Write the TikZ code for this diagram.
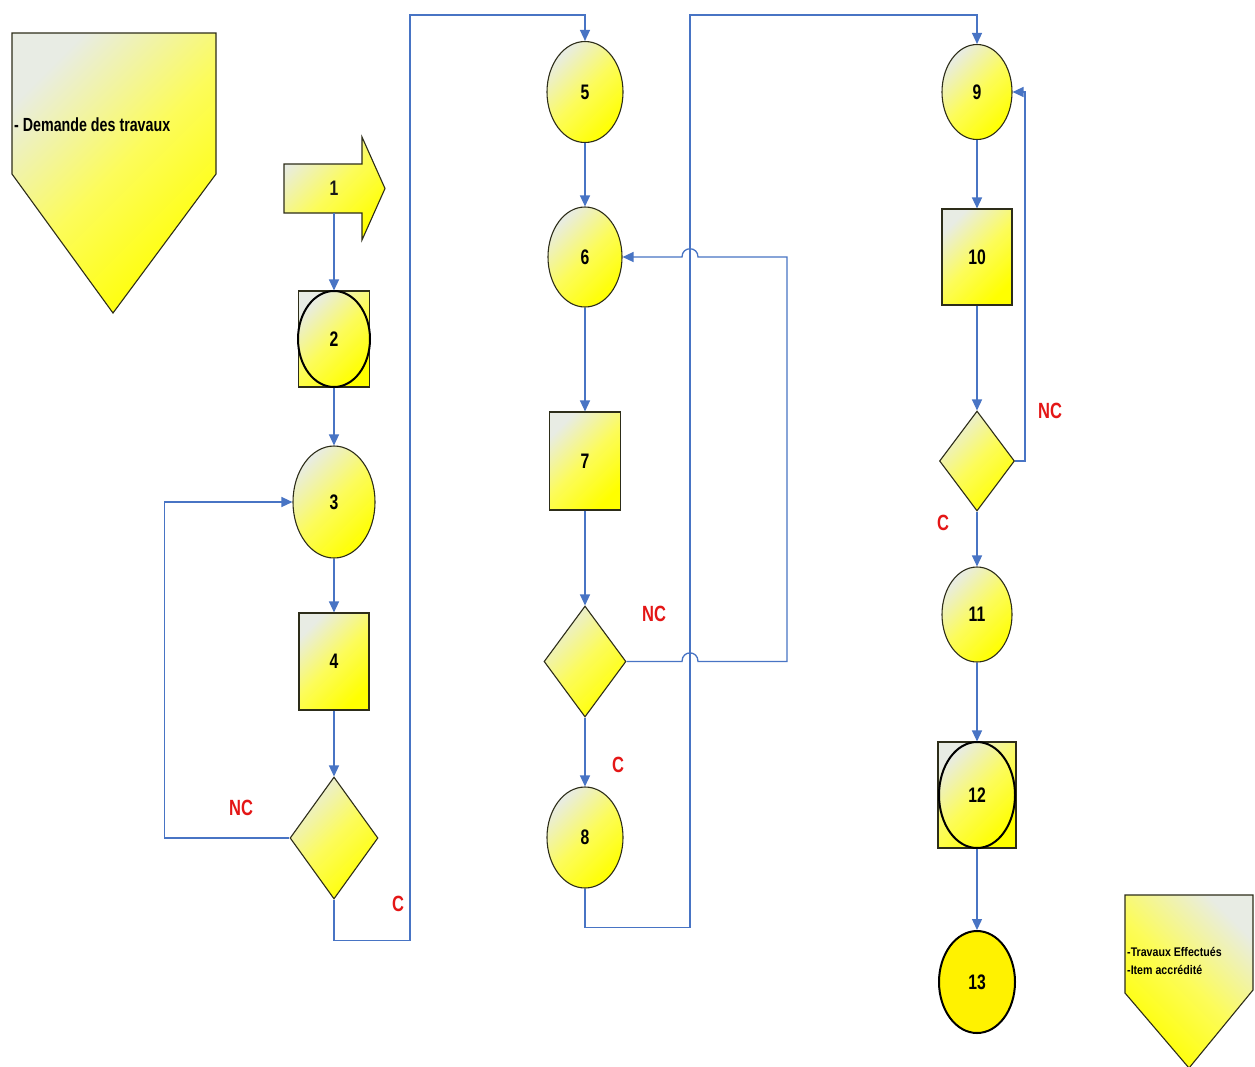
\documentclass[tikz,border=0pt]{standalone}
\usepackage{fontspec}
\setmainfont{Liberation Sans}
\newfontfamily\narrowsans[FakeStretch=0.75]{Liberation Sans}
\newfontfamily\smallsans[FakeStretch=0.85]{Liberation Sans}
\usetikzlibrary{shapes.geometric,arrows.meta}

\definecolor{lightc}{RGB}{232,236,228}
\definecolor{midc}{RGB}{252,252,90}
\definecolor{edgec}{RGB}{45,45,25}
\definecolor{flowc}{RGB}{72,116,196}
\definecolor{verdict}{RGB}{228,22,22}

\newcommand\digitfont{\narrowsans\bfseries\fontsize{21}{24}\selectfont}
\newcommand\notefont{\narrowsans\bfseries\fontsize{19}{22}\selectfont}
\newcommand\smallnote{\smallsans\bfseries\fontsize{12.5}{18}\selectfont}

\tikzset{
  box/.style={draw=edgec, line width=1.1pt, top color=lightc, bottom color=yellow,
              middle color=midc, shading angle=45},
  boxr/.style={box, shading angle=-45},
  num/.style={font=\digitfont, text=black!90, inner sep=0pt},
  circ/.style={box, ellipse, inner sep=0pt, font=\digitfont},
  rect/.style={box, rectangle, inner sep=0pt, font=\digitfont},
  dec/.style={box, diamond, inner sep=0pt},
  bold/.style={line width=2pt, draw=black},
  flow/.style={draw=flowc, line width=1.3pt, -{Triangle[length=11pt,width=10pt]}},
  verdictlabel/.style={text=verdict, font=\narrowsans\bfseries\fontsize{22}{24}\selectfont, inner sep=0pt},
}

\begin{document}
\begin{tikzpicture}[x=1pt,y=-1pt]
\useasboundingbox (0,0) rectangle (1255,1066);
\fill[white] (0,0) rectangle (1255,1066);

% entry document
\draw[box] (12,33) -- (216,33) -- (216,174) -- (113,313) -- (12,174) -- cycle;
\node[anchor=west, font=\notefont, inner sep=0pt] (entree) at (14,125) {- Demande des travaux};

% exit document
\draw[boxr] (1125,895) -- (1253,895) -- (1253,990) -- (1189,1068) -- (1125,993) -- cycle;
\node[anchor=north west, font=\smallnote, align=left, inner sep=0pt] (sortie) at (1127,947)
  {-Travaux Effectués\\-Item accrédité};

% column 1
\draw[box] (284,164) -- (362,164) -- (362,137) -- (385,188.5) -- (362,240) -- (362,213) -- (284,213) -- cycle;
\node[num, minimum height=49pt] (n1) at (334,188.5) {1};

\node[rect, minimum width=71pt, minimum height=96pt] (n2) at (334,339) {};
\node[circ, bold, minimum width=72pt, minimum height=96pt] (n2e) at (334,339) {2};

\node[circ, minimum width=82pt, minimum height=112pt] (n3) at (334,502) {3};
\node[rect, minimum width=70pt, minimum height=97pt] (n4) at (334,661.5) {4};
\node[dec, minimum width=88pt, minimum height=122pt] (d1) at (334,838) {};

% column 2
\node[circ, minimum width=76pt, minimum height=101pt] (n5) at (585,92) {5};
\node[circ, minimum width=74pt, minimum height=100pt] (n6) at (585,257) {6};
\node[rect, minimum width=71pt, minimum height=98pt] (n7) at (585,461) {7};
\node[dec, minimum width=82pt, minimum height=111pt] (d2) at (585,661.5) {};
\node[circ, minimum width=76pt, minimum height=101pt] (n8) at (585,837.5) {8};

% column 3
\node[circ, minimum width=70pt, minimum height=95pt] (n9) at (977,92) {9};
\node[rect, minimum width=70pt, minimum height=96pt] (n10) at (977,257) {10};
\node[dec, minimum width=75pt, minimum height=100pt] (d3) at (977,461) {};
\node[circ, minimum width=70pt, minimum height=95pt] (n11) at (977,614.5) {11};
\node[rect, minimum width=78pt, minimum height=106pt] (n12) at (977,795) {};
\node[circ, bold, minimum width=76pt, minimum height=106pt] (n12e) at (977,795) {12};
\node[ellipse, bold, fill=yellow, inner sep=0pt, font=\digitfont, minimum width=76pt, minimum height=102pt] (n13) at (977,982) {13};

% verdict labels
\node[verdictlabel] (nc1) at (241,808) {NC};
\node[verdictlabel] (c1) at (398,904) {C};
\node[verdictlabel] (nc2) at (654,614) {NC};
\node[verdictlabel] (c2) at (618,765) {C};
\node[verdictlabel] (nc3) at (1050,411) {NC};
\node[verdictlabel] (c3) at (943,523) {C};

% straight flows
\draw[flow] (n1.south) -- (n2.north);
\draw[flow] (n2.south) -- (n3.north);
\draw[flow] (n3.south) -- (n4.north);
\draw[flow] (n4.south) -- (d1.north);
\draw[flow] (n5.south) -- (n6.north);
\draw[flow] (n6.south) -- (n7.north);
\draw[flow] (n7.south) -- (d2.north);
\draw[flow] (d2.south) -- (n8.north);
\draw[flow] (n9.south) -- (n10.north);
\draw[flow] (n10.south) -- (d3.north);
\draw[flow] (d3.south) -- (n11.north);
\draw[flow] (n11.south) -- (n12.north);
\draw[flow] (n12.south) -- (n13.north);

% loops back
\draw[flow] (d1.west) -- ++(-125,0) |- (n3.west);
\draw[flow] (d3.east) -- ++(10,0) |- (n9.east);

% transfers between columns
\draw[flow] (d1.south) -- ++(0,41) -| (410,15) -| (n5.north);
\draw[flow] (n8.south) -- ++(0,39) -| (690,15) -| (n9.north);

% rework loop with hops over the transfer line
\coordinate (hopA1) at (682,661.5);
\coordinate (hopA2) at (698,661.5);
\coordinate (hopB1) at (698,257);
\coordinate (hopB2) at (682,257);
\draw[flow] (d2.east) -- (hopA1) .. controls (682,650) and (698,650) .. (hopA2)
  -- (787,661.5) -- (787,257) -- (hopB1) .. controls (698,246) and (682,246) .. (hopB2)
  -- (n6.east);
\end{tikzpicture}
\end{document}
